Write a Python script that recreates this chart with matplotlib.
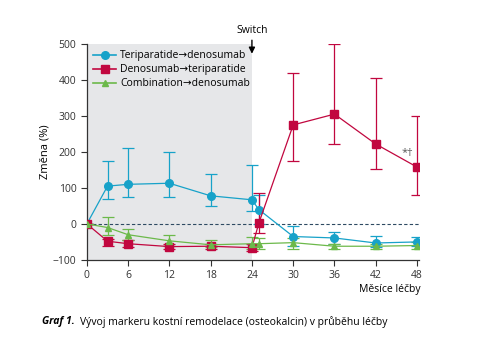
import matplotlib.pyplot as plt
from matplotlib.lines import Line2D

plt.rcParams['font.family'] = ['Open Sans', 'DejaVu Sans']

months = [0, 3, 6, 12, 18, 24, 25, 30, 36, 42, 48]

# Teriparatide -> denosumab
teri = [0, 105, 110, 113, 78, 67, 40, -35, -39, -53, -50]
teri_lo = [0, 70, 75, 75, 50, 35, 0, -60, -55, -65, -62]
teri_hi = [0, 175, 212, 200, 138, 165, 80, -5, -22, -33, -36]

# Denosumab -> teriparatide
deno = [0, -48, -55, -63, -62, -66, 2, 275, 305, 222, 158]
deno_lo = [0, -62, -65, -70, -70, -75, -25, 175, 222, 153, 80]
deno_hi = [0, -42, -45, -55, -55, -55, 87, 418, 500, 406, 300]

# Combination -> denosumab
comb = [0, -10, -30, -47, -58, -55, -55, -52, -62, -62, -60]
comb_lo = [0, -30, -45, -60, -65, -70, -70, -70, -70, -70, -70]
comb_hi = [0, 18, -15, -30, -45, -35, -40, -40, -55, -55, -50]

xticks = [0, 6, 12, 18, 24, 30, 36, 42, 48]
yticks = [-100, 0, 100, 200, 300, 400, 500]

blue = '#17a2c9'
red = '#c1073f'
green = '#6cb94a'

fig = plt.figure(figsize=(4.8, 3.6), dpi=100)
ax = fig.add_axes([0.181, 0.278, 0.692, 0.6])

ax.axvspan(0, 24, color='#e6e7e9', zorder=0, lw=0)
ax.axhline(0, color='#2e4a62', ls=(0, (3, 2)), lw=0.8, zorder=1)

series = [
    (teri, teri_lo, teri_hi, blue, 'o', 'Teriparatide\u2192denosumab', 5.5),
    (deno, deno_lo, deno_hi, red, 's', 'Denosumab\u2192teriparatide', 5.5),
    (comb, comb_lo, comb_hi, green, '^', 'Combination\u2192denosumab', 5),
]
handles = []
for vals, lo, hi, col, mk, lab, ms in series:
    err = [[v - l for v, l in zip(vals, lo)], [h - v for v, h in zip(vals, hi)]]
    ax.errorbar(months, vals, yerr=err, color=col, marker=mk, ms=ms, lw=0.9,
                elinewidth=0.9, capsize=4, capthick=0.9, zorder=3)
    handles.append(Line2D([], [], color=col, marker=mk, ms=ms, lw=1.2, label=lab))

ax.set_xlim(0, 48.3)
ax.set_ylim(-100, 500)
ax.set_xticks(xticks)
ax.set_yticks(yticks)
ax.tick_params(labelsize=7.5, length=4, width=0.8, colors='#333333')
for s in ['top', 'right']:
    ax.spines[s].set_visible(False)
for s in ['left', 'bottom']:
    ax.spines[s].set_color('#333333')
    ax.spines[s].set_linewidth(0.9)

ax.set_ylabel('Změna (%)', fontsize=8, labelpad=2)
ax.text(48.6, -183, 'Měsíce léčby', fontsize=7.5, ha='right', va='center',
        clip_on=False)

ax.text(46.6, 195, '*\u2020', fontsize=8, color='#555555', ha='center', va='center')

ax.annotate('', xy=(24, 465), xytext=(24, 518),
            arrowprops=dict(arrowstyle='-|>', color='black', lw=1.0,
                            mutation_scale=9),
            annotation_clip=False)
ax.text(24, 522, 'Switch', fontsize=7.5, ha='center', va='bottom')

ax.legend(handles=handles, loc='upper left', frameon=False, fontsize=7.5,
          handlelength=2.2, handletextpad=0.4, borderaxespad=0.2,
          labelspacing=0.3, bbox_to_anchor=(0.0, 1.0))

fig.text(0.087, 0.106, 'Graf 1.', fontsize=7.5, fontweight='bold', style='italic',
         va='center')
fig.text(0.167, 0.106, 'Vývoj markeru kostní remodelace (osteokalcin) v průběhu léčby',
         fontsize=7.5, va='center')

fig.savefig('out.png', dpi=100)
